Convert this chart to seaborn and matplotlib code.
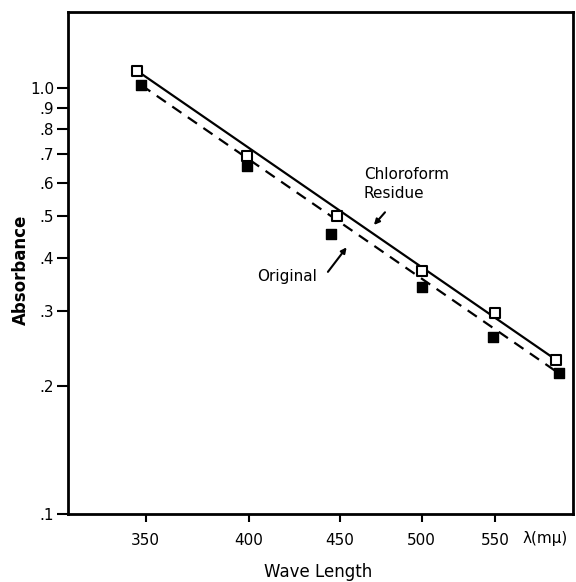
import matplotlib
matplotlib.use("Agg")
import matplotlib.pyplot as plt
import seaborn as sns
import numpy as np
import pandas as pd

# Data (log-log plot)
wavelength_chloro = [346, 399, 448, 500, 550, 595]
absorb_chloro = [1.10, 0.692, 0.50, 0.372, 0.296, 0.230]
wavelength_orig = [348, 399, 445, 500, 548, 597]
absorb_orig = [1.017, 0.656, 0.454, 0.341, 0.260, 0.214]

xticks = [350, 400, 450, 500, 550]
xtick_labels = ["350", "400", "450", "500", "550"]
yticks = [0.1, 0.2, 0.3, 0.4, 0.5, 0.6, 0.7, 0.8, 0.9, 1.0]
ytick_labels = [".1", ".2", ".3", ".4", ".5", ".6", ".7", ".8", ".9", "1.0"]

sns.set_style("ticks")
plt.rcParams["font.family"] = ["DejaVu Sans"]
plt.rcParams["text.color"] = "black"
plt.rcParams["axes.labelcolor"] = "black"

fig = plt.figure(figsize=(5.76, 5.82), dpi=100)
ax = fig.add_axes([68/576, 1-514/582, (573-68)/576, (514-12)/582])

df_c = pd.DataFrame({"wl": wavelength_chloro, "a": absorb_chloro})
df_o = pd.DataFrame({"wl": wavelength_orig, "a": absorb_orig})

# straight lines joining the first and last point of each series
line_c = df_c.iloc[[0, -1]]
line_o = df_o.iloc[[0, -1]]
sns.lineplot(data=line_c, x="wl", y="a", ax=ax, color="black", lw=1.6,
             estimator=None, sort=False)
sns.lineplot(data=line_o, x="wl", y="a", ax=ax, color="black", lw=1.6,
             estimator=None, sort=False, dashes=False, linestyle=(0, (5, 3.5)))

sns.scatterplot(data=df_c, x="wl", y="a", ax=ax, marker="s", s=45,
                facecolor="white", edgecolor="black", linewidth=1.5, zorder=5)
sns.scatterplot(data=df_o, x="wl", y="a", ax=ax, marker="s", s=55,
                color="black", edgecolor="black", linewidth=1, zorder=5)

ax.set_xscale("log")
ax.set_yscale("log")
ax.set_xlim(316.6, 608)
ax.set_ylim(0.1, 1.51)

ax.xaxis.set_major_locator(matplotlib.ticker.FixedLocator(xticks))
ax.xaxis.set_major_formatter(matplotlib.ticker.FixedFormatter(xtick_labels))
ax.xaxis.set_minor_locator(matplotlib.ticker.NullLocator())
ax.yaxis.set_major_locator(matplotlib.ticker.FixedLocator(yticks))
ax.yaxis.set_major_formatter(matplotlib.ticker.FixedFormatter(ytick_labels))
ax.yaxis.set_minor_locator(matplotlib.ticker.NullLocator())

ax.tick_params(axis="both", direction="out", width=1.5, color="black",
               labelsize=11, labelcolor="black")
ax.tick_params(axis="y", length=8, pad=2)
ax.tick_params(axis="x", length=6, pad=8)

for sp in ax.spines.values():
    sp.set_visible(True)
    sp.set_color("black")
    sp.set_linewidth(2)

ax.set_xlabel("Wave Length", fontsize=12)
ax.set_ylabel("Absorbance", fontsize=12, fontweight="bold")
ax.xaxis.set_label_coords(0.495, -0.097)
ax.yaxis.set_label_coords(-0.075, 0.486)

fig.text(545/576, 1-538/582, "λ(mμ)", fontsize=11, ha="center", va="center")

# annotations
ax.text(464, 0.653, "Chloroform\nResidue", fontsize=11, ha="left", va="top",
        linespacing=1.3)
ax.annotate("", xy=(469, 0.472), xytext=(478, 0.517),
            arrowprops=dict(arrowstyle="-|>", color="black", lw=1.5,
                            mutation_scale=8))
ax.text(437, 0.362, "Original", fontsize=11, ha="right", va="center")
ax.annotate("", xy=(454.8, 0.428), xytext=(442, 0.366),
            arrowprops=dict(arrowstyle="-|>", color="black", lw=1.5,
                            mutation_scale=8))

fig.savefig("out.png", dpi=100)
